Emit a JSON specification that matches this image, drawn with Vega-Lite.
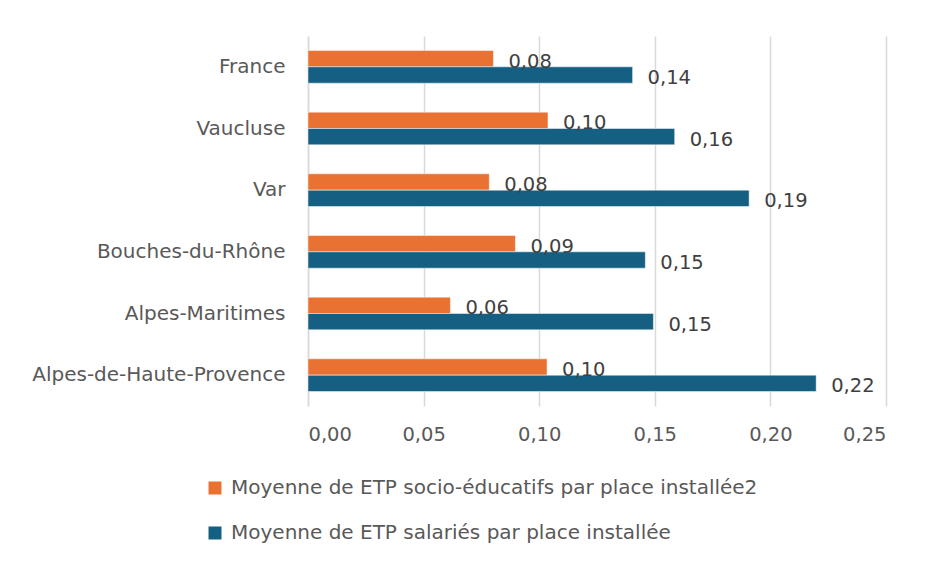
{
  "$schema": "https://vega.github.io/schema/vega-lite/v6.json",
  "autosize": {"type": "none"},
  "width": 578,
  "height": 370,
  "padding": {"left": 308, "top": 36, "right": 39, "bottom": 155},
  "background": "white",
  "config": {
    "locale": {"number": {"decimal": ",", "thousands": " ", "grouping": [3], "currency": ["", " €"]}},
    "view": {"stroke": null},
    "font": "DejaVu Sans",
    "text": {"font": "DejaVu Sans"}
  },
  "data": {
    "values": [
      {"zone": "France", "serie": "Moyenne de ETP socio-éducatifs par place installée2", "valeur": 0.0802},
      {"zone": "France", "serie": "Moyenne de ETP salariés par place installée", "valeur": 0.1404},
      {"zone": "Vaucluse", "serie": "Moyenne de ETP socio-éducatifs par place installée2", "valeur": 0.1038},
      {"zone": "Vaucluse", "serie": "Moyenne de ETP salariés par place installée", "valeur": 0.1586},
      {"zone": "Var", "serie": "Moyenne de ETP socio-éducatifs par place installée2", "valeur": 0.0784},
      {"zone": "Var", "serie": "Moyenne de ETP salariés par place installée", "valeur": 0.1908},
      {"zone": "Bouches-du-Rhône", "serie": "Moyenne de ETP socio-éducatifs par place installée2", "valeur": 0.0897},
      {"zone": "Bouches-du-Rhône", "serie": "Moyenne de ETP salariés par place installée", "valeur": 0.1459},
      {"zone": "Alpes-Maritimes", "serie": "Moyenne de ETP socio-éducatifs par place installée2", "valeur": 0.0616},
      {"zone": "Alpes-Maritimes", "serie": "Moyenne de ETP salariés par place installée", "valeur": 0.1494},
      {"zone": "Alpes-de-Haute-Provence", "serie": "Moyenne de ETP socio-éducatifs par place installée2", "valeur": 0.1034},
      {"zone": "Alpes-de-Haute-Provence", "serie": "Moyenne de ETP salariés par place installée", "valeur": 0.2198}
    ]
  },
  "encoding": {
    "y": {
      "field": "zone", "type": "nominal",
      "sort": ["France", "Vaucluse", "Var", "Bouches-du-Rhône", "Alpes-Maritimes", "Alpes-de-Haute-Provence"],
      "scale": {"paddingInner": 0.47, "paddingOuter": 0.235},
      "axis": {
        "title": null, "ticks": false, "domain": true, "domainColor": "#d9d9d9", "domainWidth": 1.5,
        "labelFontSize": 20, "labelColor": "#595959", "labelPadding": 23, "labelFont": "DejaVu Sans", "labelLimit": 400, "grid": false
      }
    },
    "yOffset": {
      "field": "serie", "type": "nominal",
      "sort": ["Moyenne de ETP socio-éducatifs par place installée2", "Moyenne de ETP salariés par place installée"],
      "scale": {"paddingInner": 0, "paddingOuter": 0}
    },
    "x": {
      "field": "valeur", "type": "quantitative",
      "scale": {"domain": [0, 0.25], "nice": false},
      "axis": {
        "title": null, "format": ".2f", "values": [0, 0.05, 0.1, 0.15, 0.2, 0.25],
        "domain": false, "ticks": false, "grid": true, "gridColor": "#d9d9d9", "gridWidth": 1.5,
        "labelFontSize": 19.5, "labelColor": "#595959", "labelPadding": 19, "labelFont": "DejaVu Sans"
      }
    }
  },
  "layer": [
    {
      "mark": {"type": "bar", "stroke": "white", "strokeWidth": 0.8, "strokeOpacity": 0.6},
      "encoding": {
        "color": {
          "field": "serie", "type": "nominal",
          "scale": {
            "domain": ["Moyenne de ETP socio-éducatifs par place installée2", "Moyenne de ETP salariés par place installée"],
            "range": ["#E97132", "#156082"]
          },
          "legend": {
            "orient": "none", "legendX": -103, "legendY": 442, "direction": "vertical",
            "title": null, "symbolType": "square", "symbolSize": 169, "symbolStrokeWidth": 0,
            "labelFontSize": 20, "labelColor": "#595959", "labelFont": "DejaVu Sans",
            "labelOffset": 6, "rowPadding": 25, "labelLimit": 700
          }
        }
      }
    },
    {
      "mark": {"type": "text", "align": "left", "baseline": "middle", "dx": 15, "dy": 3, "fontSize": 19.5, "color": "#404040", "font": "DejaVu Sans"},
      "encoding": {
        "text": {"field": "valeur", "type": "quantitative", "format": ".2f"}
      }
    }
  ]
}
